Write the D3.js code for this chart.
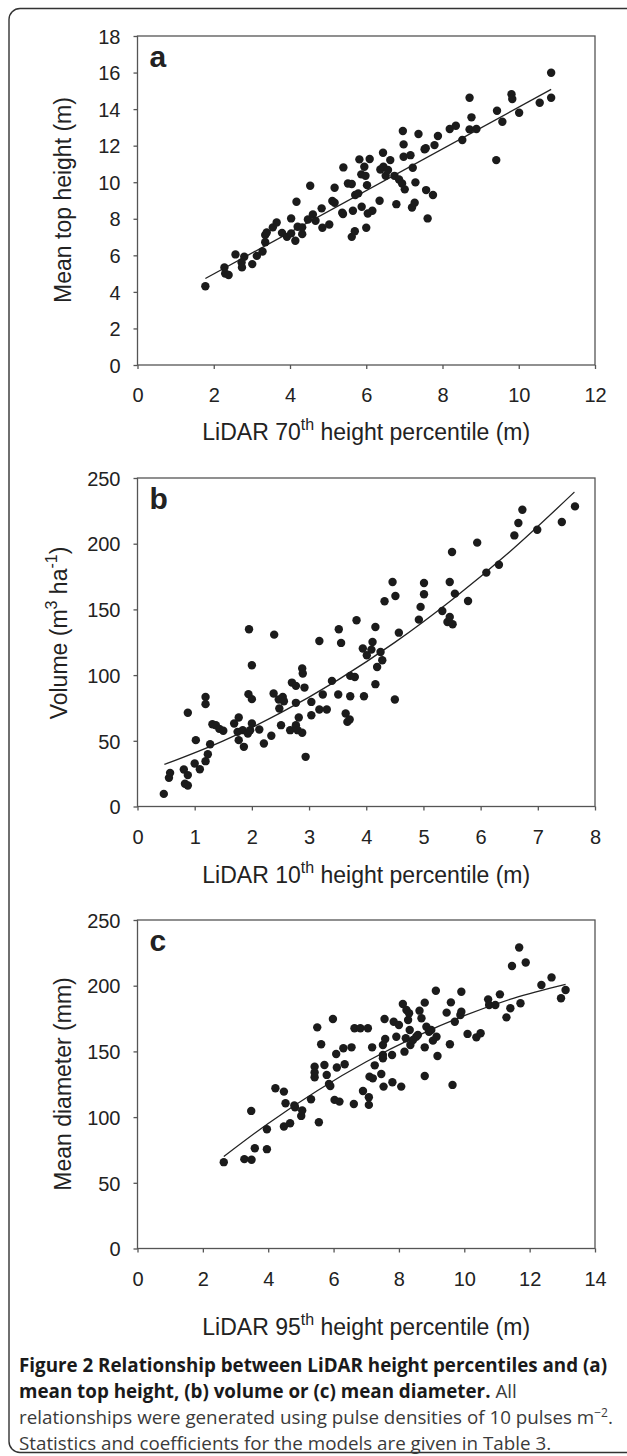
<!DOCTYPE html>
<html>
<head>
<meta charset="utf-8">
<script src="https://cdn.jsdelivr.net/npm/d3@7"></script>
<style>
  body { margin: 0; background: #fff; }
  svg text { font-family: "Liberation Sans", Arial, sans-serif; fill: #222; }
  svg text.cap { font-family: "Open Sans", sans-serif; }
</style>
</head>
<body>
<script>
// panel a : LiDAR 70th percentile vs mean top height
var aX = [1.78,2.28,2.30,2.39,2.57,2.80,2.73,2.74,3.01,3.13,
  3.28,3.35,3.35,3.39,3.55,3.65,3.79,3.92,4.03,4.03,
  4.14,4.17,4.20,4.32,4.32,4.47,4.53,4.60,4.67,4.83,
  4.85,5.03,5.11,5.17,5.17,5.37,5.39,5.40,5.52,5.62,
  5.62,5.65,5.70,5.71,5.79,5.82,5.87,5.88,5.95,5.98,
  6.00,6.02,6.04,6.09,6.16,6.35,6.37,6.44,6.45,6.51,
  6.57,6.63,6.74,6.79,6.86,6.94,6.96,6.98,6.98,7.01,
  7.16,7.20,7.22,7.27,7.29,7.37,7.53,7.56,7.57,7.61,
  7.75,7.79,7.88,8.19,8.35,8.52,8.71,8.71,8.76,8.89,
  9.41,9.43,9.57,9.81,9.83,10.01,10.55,10.85,10.85];
var aY = [4.31,5.34,5.01,4.92,6.05,5.92,5.61,5.34,5.52,5.97,
  6.21,6.72,7.11,7.25,7.53,7.80,7.23,7.01,7.20,8.02,
  6.80,8.93,7.56,7.16,7.53,7.96,9.81,8.24,7.89,8.57,
  7.51,7.69,8.97,9.70,8.88,8.33,8.26,10.81,9.93,9.90,
  7.01,8.44,7.32,9.30,9.39,11.25,10.43,8.66,10.85,10.35,
  7.51,9.84,8.29,11.27,8.44,8.99,10.70,11.61,10.85,10.35,
  10.67,11.21,10.35,8.80,10.15,9.93,12.80,12.07,11.39,9.61,
  11.48,8.62,10.79,8.88,9.99,12.64,11.80,11.86,9.57,8.02,
  9.30,12.03,12.53,12.91,13.09,12.31,14.62,12.89,13.55,12.91,
  11.21,13.91,13.31,14.81,14.55,13.80,14.35,15.99,14.62];
var lineAX = [1.78, 10.85];
var lineAY = [4.73, 15.08];

// panel b : LiDAR 10th percentile vs volume
var bX = [0.81,0.88,1.00,1.09,1.19,1.23,1.02,0.88,1.27,1.19,
  1.19,1.31,1.37,1.43,1.50,1.69,1.77,1.75,1.77,1.86,
  1.84,1.93,1.97,2.00,1.94,2.00,1.95,2.00,2.13,2.21,
  2.34,2.38,2.39,2.51,2.48,2.47,2.54,2.56,2.67,2.70,
  2.77,2.77,2.77,2.82,2.80,2.88,2.89,2.88,2.92,2.94,
  3.04,3.04,3.18,3.18,3.24,3.31,3.40,3.51,3.52,3.56,
  3.64,3.67,3.71,3.72,3.72,3.80,3.83,3.96,3.94,4.01,
  4.11,4.09,4.16,4.16,4.19,4.25,4.28,4.32,4.46,4.51,
  4.50,4.57,4.92,4.95,5.01,5.01,5.33,5.42,5.46,5.46,
  5.50,5.51,5.55,5.78,5.94,6.10,6.32,6.59,6.66,6.73,
  6.99,7.42,7.65,0.46,0.55,0.57,0.83,0.88];
var bY = [28.2,23.9,32.7,28.4,34.5,39.8,50.5,71.3,47.4,77.9,
  83.4,62.6,61.9,59.1,57.6,63.2,67.7,56.8,50.5,45.4,
  58.1,55.6,58.1,63.2,85.5,81.7,134.9,107.5,58.6,47.9,
  53.8,86.0,130.8,61.9,74.6,81.4,83.4,80.1,58.1,94.3,
  78.9,91.8,61.9,67.7,58.1,105.0,101.2,56.1,90.5,37.8,
  79.6,69.5,126.0,73.8,85.2,73.8,95.6,85.2,134.9,124.5,
  70.8,64.4,66.2,83.9,99.4,98.6,141.7,83.9,120.2,115.1,
  125.2,119.4,136.6,93.1,106.2,117.6,111.3,156.2,170.9,160.2,
  81.4,132.3,142.2,151.9,161.5,170.1,148.8,140.4,144.2,170.9,
  193.7,138.7,162.0,156.4,200.8,178.0,184.0,206.3,215.7,225.8,
  210.6,216.5,228.4,9.6,21.8,25.6,17.3,16.0];
var lineBX = [0.47,1.5,2.5,3.5,4.5,5.5,6.5,7.64];
var lineBY = [32.0,50.0,71.2,96.2,124.9,157.4,193.5,239.3];

// panel c : LiDAR 95th percentile vs mean diameter
var cX = [2.64,3.27,3.49,3.59,3.48,3.96,3.96,4.22,4.48,4.53,
  4.48,4.67,4.80,4.82,5.01,5.04,5.31,5.42,5.42,5.42,
  5.50,5.55,5.62,5.72,5.79,5.86,5.90,5.98,6.03,6.08,
  6.10,6.18,6.30,6.34,6.55,6.62,6.64,6.82,6.90,7.05,
  7.08,7.08,7.10,7.18,7.20,7.26,7.46,7.53,7.56,7.51,
  7.58,7.51,7.51,7.79,7.80,7.84,7.92,8.00,8.07,8.12,
  8.17,8.21,8.23,8.28,8.31,8.33,8.35,8.43,8.53,8.58,
  8.63,8.69,8.79,8.79,8.79,8.84,8.92,8.99,9.04,9.13,
  9.15,9.18,9.46,9.56,9.59,9.64,9.71,9.88,9.91,9.91,
  10.10,10.37,10.50,10.73,10.76,10.95,11.09,11.29,11.41,11.46,
  11.72,11.88,12.36,12.67,12.96,13.10,11.68];
var cY = [65.7,68.0,67.5,76.3,104.7,90.8,75.6,121.9,119.4,110.5,
  92.8,95.3,108.8,107.5,100.9,105.0,113.6,130.3,138.4,133.9,
  168.3,96.1,155.4,139.7,132.1,125.2,123.7,174.7,113.1,148.0,
  137.7,111.8,152.4,140.2,153.1,110.0,167.6,167.6,119.9,167.6,
  115.1,109.3,130.8,153.1,129.5,139.4,132.8,123.2,174.7,154.9,
  159.5,147.3,144.8,147.3,126.5,172.6,161.2,170.1,123.2,186.1,
  149.8,160.0,181.5,173.9,179.0,166.3,154.9,158.7,161.2,162.5,
  181.0,175.2,187.1,153.1,131.3,168.8,165.0,166.3,158.2,196.2,
  161.2,146.5,179.5,155.4,187.3,124.5,172.6,177.7,195.4,180.2,
  163.3,160.7,163.8,189.6,185.3,185.3,193.4,175.9,182.8,215.0,
  186.6,217.7,200.5,206.3,190.4,196.7,229.1];
var lineCX = [2.64,4,5.5,7,8.5,10,11.5,13.1];
var lineCY = [70,95.2,120.1,142.1,161.1,177.2,190.4,201];

// tick labels
var xTicksA = [0,2,4,6,8,10,12];
var yTicksA = [0,2,4,6,8,10,12,14,16,18];
var xTicksB = [0,1,2,3,4,5,6,7,8];
var yTicksB = [0,50,100,150,200,250];
var xTicksC = [0,2,4,6,8,10,12,14];
var yTicksC = [0,50,100,150,200,250];

var width = 627;
var height = 1456;
var left = 137.5, right = 595;

var svg = d3.select("body").append("svg")
  .attr("width", width)
  .attr("height", height);

// outer box of the figure
svg.append("rect")
  .attr("x", 9).attr("y", 8.5)
  .attr("width", 660).attr("height", 1444)
  .attr("rx", 11)
  .attr("fill", "none")
  .attr("stroke", "#333")
  .attr("stroke-width", 1.4);

var panels = [
  {letter: "a", xs: aX, ys: aY, lx: lineAX, ly: lineAY, top: 36, bottom: 365,
   xmax: 12, ymax: 18, xt: xTicksA, yt: yTicksA, titleGap: 75,
   xtitle: ["LiDAR 70", "th", " height percentile (m)"],
   ytitle: [["Mean top height (m)", false]], ytx: 71, yty: 200},
  {letter: "b", xs: bX, ys: bY, lx: lineBX, ly: lineBY, top: 478, bottom: 806.5,
   xmax: 8, ymax: 250, xt: xTicksB, yt: yTicksB, titleGap: 76,
   xtitle: ["LiDAR 10", "th", " height percentile (m)"],
   ytitle: [["Volume (m", false], ["3", true], [" ha", false], ["-1", true], [")", false]], ytx: 67, yty: 633},
  {letter: "c", xs: cX, ys: cY, lx: lineCX, ly: lineCY, top: 920, bottom: 1248.5,
   xmax: 14, ymax: 250, xt: xTicksC, yt: yTicksC, titleGap: 86,
   xtitle: ["LiDAR 95", "th", " height percentile (m)"],
   ytitle: [["Mean diameter (mm)", false]], ytx: 71, yty: 1084}
];

panels.forEach(function(p){
  var x = d3.scaleLinear().domain([0, p.xmax]).range([left, right]);
  var y = d3.scaleLinear().domain([0, p.ymax]).range([p.bottom, p.top]);
  var g = svg.append("g");

  var xa = g.append("g")
    .attr("transform", "translate(0," + p.bottom + ")")
    .call(d3.axisBottom(x).tickValues(p.xt).tickSize(4).tickFormat(d3.format("d")));
  xa.selectAll("text").attr("y", 37).attr("dy", null)
    .style("font-size", "20px");

  var ya = g.append("g")
    .attr("transform", "translate(" + left + ",0)")
    .call(d3.axisLeft(y).tickValues(p.yt).tickSize(4).tickFormat(d3.format("d")));
  ya.selectAll("text").attr("x", -17).attr("dy", "0.36em")
    .style("font-size", "20px");

  g.selectAll(".domain").remove();
  g.selectAll(".tick line").attr("stroke", "#555").attr("stroke-width", 1.3);
  g.selectAll(".tick text").attr("fill", "#222");

  g.append("rect")
    .attr("x", left).attr("y", p.top)
    .attr("width", right - left).attr("height", p.bottom - p.top)
    .attr("fill", "none")
    .attr("stroke", "#555")
    .attr("stroke-width", 1.3);

  // fitted model
  var pts = p.lx.map(function(v, i){ return [v, p.ly[i]]; });
  g.append("path")
    .attr("d", d3.line().curve(d3.curveMonotoneX)
      .x(function(d){ return x(d[0]); })
      .y(function(d){ return y(d[1]); })(pts))
    .attr("fill", "none")
    .attr("stroke", "#222")
    .attr("stroke-width", 1.3);

  g.selectAll("circle")
    .data(p.xs)
    .enter()
    .append("circle")
    .attr("cx", function(d){ return x(d); })
    .attr("cy", function(d, i){ return y(p.ys[i]); })
    .attr("r", 4.2)
    .attr("fill", "#1b1b1b");

  g.append("text")
    .attr("x", left + 12).attr("y", p.top + 31)
    .style("font-size", "30px").style("font-weight", "bold")
    .attr("fill", "#222")
    .text(p.letter);

  // x title with superscript
  var xt = g.append("text")
    .attr("x", (left + right) / 2)
    .attr("y", p.bottom + p.titleGap)
    .attr("text-anchor", "middle")
    .style("font-size", "23px");
  xt.append("tspan").text(p.xtitle[0]);
  xt.append("tspan").attr("dy", -10).style("font-size", "16px").text(p.xtitle[1]);
  xt.append("tspan").attr("dy", 10).text(p.xtitle[2]);

  var yt = g.append("text")
    .attr("transform", "translate(" + p.ytx + "," + p.yty + ") rotate(-90)")
    .attr("text-anchor", "middle")
    .style("font-size", "23px");
  var up = false;
  p.ytitle.forEach(function(part){
    var t = yt.append("tspan").text(part[0]);
    if (part[1] && !up) { t.attr("dy", -10).style("font-size", "16px"); up = true; }
    else if (part[1]) { t.style("font-size", "16px"); }
    else if (up) { t.attr("dy", 10); up = false; }
  });
});

// caption
var capLines = [
  [["Figure 2 Relationship between LiDAR height percentiles and (a)", "bold"]],
  [["mean top height, (b) volume or (c) mean diameter.", "bold"], [" All", "normal"]],
  [["relationships were generated using pulse densities of 10 pulses m", "normal"], ["\u22122", "sup"], [".", "normal"]],
  [["Statistics and coefficients for the models are given in Table 3.", "normal"]]
];
var capY = [1372, 1398, 1424, 1450];
capLines.forEach(function(line, i){
  var t = svg.append("text")
    .attr("class", "cap")
    .attr("x", 19).attr("y", capY[i])
    .style("font-size", "18.8px");
  var up = false;
  line.forEach(function(part){
    var s = t.append("tspan").text(part[0]);
    if (part[1] == "bold") s.style("font-weight", "bold").attr("fill", "#1a1a1a");
    else if (part[1] == "sup") { s.attr("dy", -7).style("font-size", "12px").attr("fill", "#3a3a3a"); up = true; }
    else {
      s.attr("fill", "#3a3a3a");
      if (up) { s.attr("dy", 7); up = false; }
    }
  });
});
</script>
</body>
</html>
